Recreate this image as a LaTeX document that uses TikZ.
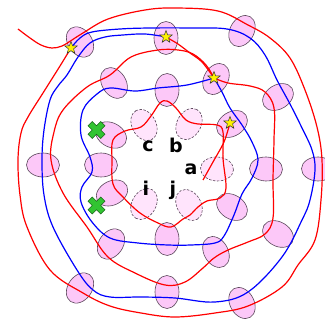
\documentclass[tikz,border=0pt]{standalone}
\usepackage{fontspec}
\setsansfont{DejaVu Sans}
\usetikzlibrary{shapes.geometric}
\definecolor{blobfill}{RGB}{252,200,248}
\definecolor{ghostfill}{RGB}{255,228,252}
\definecolor{blobline}{RGB}{90,70,90}
\definecolor{crossfill}{RGB}{50,196,50}
\definecolor{crossline}{RGB}{20,100,20}
\tikzset{greenx/.pic={\filldraw[fill=crossfill, draw=crossline, line width=0.6pt, rotate=45]
  (3,9) -- (-3,9) -- (-3,3) -- (-9,3) -- (-9,-3) -- (-3,-3) -- (-3,-9) -- (3,-9) -- (3,-3) -- (9,-3) -- (9,3) -- (3,3) -- cycle;}}

\begin{document}
\begin{tikzpicture}[x=1pt, y=-1pt,
  blob/.style={ellipse, draw=blobline, line width=0.6pt, fill=blobfill, minimum width=33pt, minimum height=24pt, inner sep=0pt},
  ghost/.style={blob, fill=ghostfill, dash pattern=on 2.5pt off 1.5pt},
  redline/.style={red, line width=1.2pt},
  blueline/.style={blue, line width=1.2pt},
  starmark/.style={star, star points=5, star point ratio=2.4, minimum size=13pt, inner sep=0pt, fill=yellow, draw=black!80, line width=0.5pt},
  lbl/.style={font=\sffamily\bfseries\fontsize{19}{19}\selectfont, inner sep=0pt}]
  \useasboundingbox (0,0) rectangle (325,320);
  % solid blobs, long axis pointing away from the middle
  \foreach \x/\y [count=\k] in {80/42, 166/38, 242/31, 114/83, 167/90, 216/79, 278/97, 232/124,
      43/165, 101/165, 111/135, 112/193, 266/169, 318/169, 232/207, 278/234,
      216/252, 167/239, 111/244, 80/288, 167/292, 242/303} {
    \pgfmathsetmacro\ang{atan2(166-\y,\x-166)}
    \node[blob, rotate=\ang] (e\k) at (\x,\y) {};
  }
  % dashed blobs round the letters
  \foreach \x/\y [count=\k] in {144/125, 189/124, 217/169, 144/204, 189/205} {
    \pgfmathsetmacro\ang{atan2(166-\y,\x-166)}
    \node[ghost, rotate=\ang] (g\k) at (\x,\y) {};
  }
  % outer red, loose end top left
  \draw[redline] plot[smooth, tension=0.6] coordinates {(18,29) (30,38) (41,45) (52,48) (62,46) (72,40) (83,33)
    (108,19) (145,10) (175,8) (218,11) (248,25) (270,38) (290,58) (305,90) (317,127) (322,160) (321,200)
    (315,240) (298,265) (282,287) (248,306) (215,313) (175,317) (141,313) (110,306) (83,293) (50,270)
    (27,227) (20,195) (18,160) (21,133) (28,117) (43,93) (60,66) (71,48)};
  % outer blue, round to the second star
  \draw[blueline] plot[smooth, tension=0.6] coordinates {(71,48) (80,38) (92,32) (120,29) (150,28) (190,28)
    (227,29) (250,38) (265,55) (277,80) (290,104) (302,128) (312,150) (315,170) (310,200) (302,220)
    (282,257) (248,292) (215,302) (175,298) (141,297) (110,297) (93,290) (77,270) (53,227) (44,195)
    (42,160) (44,130) (50,100) (58,86) (67,75) (78,57) (90,43) (105,37) (123,35) (145,34) (166,37)};
  \draw[redline] plot[smooth] coordinates {(166,37) (178,44) (190,53) (202,62) (214,78)};
  % middle red loop
  \draw[redline] plot[smooth, tension=0.6] coordinates {(214,78) (228,83) (250,86) (265,92) (274,108)
    (274,140) (273,180) (273,218) (265,234) (248,242) (228,250) (214,258) (203,268) (185,282) (165,285)
    (135,273) (108,257) (87,227) (63,193) (51,160) (54,132) (63,110) (87,87) (110,75) (131,57) (158,50)
    (178,50) (193,54) (206,65) (214,78)};
  % inner blue loop
  \draw[blueline] plot[smooth, tension=0.6] coordinates {(214,78) (222,92) (230,108) (242,125) (252,142)
    (258,160) (252,178) (242,194) (234,215) (224,236) (215,243) (191,245) (168,245) (138,243) (110,238)
    (92,222) (81,202) (82,187) (92,172) (90,157) (81,135) (83,110) (97,94) (110,88) (135,91) (158,88)
    (187,85) (214,78)};
  % inner red loop and its tail
  \draw[redline] plot[smooth cycle, tension=0.6] coordinates {(112,160) (113,140) (125,131) (141,127)
    (151,116) (160,103) (167,101) (176,108) (186,120) (198,124) (217,125) (223,132) (223,158) (226,188)
    (220,198) (207,201) (198,207) (190,215) (183,219) (171,227) (158,223) (140,213) (123,197) (113,184)};
  \draw[redline] plot[smooth] coordinates {(230,123) (224,142) (213,162) (203,180)};
  % marks
  \node[starmark] (s1) at (71,48) {};
  \node[starmark] (s2) at (166,37) {};
  \node[starmark] (s3) at (214,78) {};
  \node[starmark] (s4) at (230,123) {};
  \pic (x1) at (96.5,130) {greenx};
  \pic (x2) at (96.5,205.5) {greenx};
  % letters
  \node[lbl] (la) at (191,169) {a};
  \node[lbl] (lb) at (176,145) {b};
  \node[lbl] (lc) at (148,146) {c};
  \node[lbl] (li) at (146,188.5) {i};
  \node[lbl] (lj) at (173,190) {j};
\end{tikzpicture}
\end{document}
